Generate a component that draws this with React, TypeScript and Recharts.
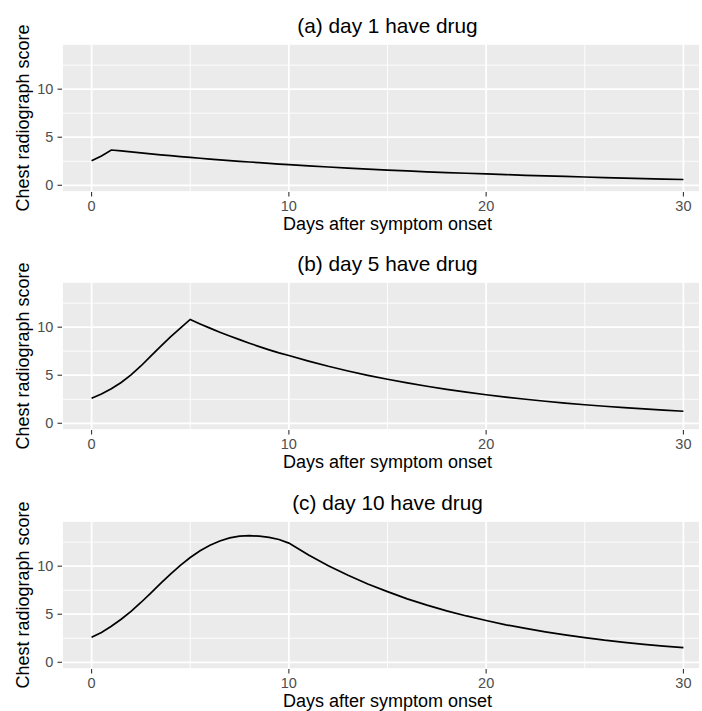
import React from "react";
import { LineChart, Line, XAxis, YAxis, CartesianGrid, Label } from "recharts";

const days = [0, 0.5, 1, 1.5, 2, 2.5, 3, 3.5, 4, 4.5, 5, 5.5, 6, 6.5, 7, 7.5, 8, 8.5, 9, 9.5, 10,
  11, 12, 13, 14, 15, 16, 17, 18, 19, 20, 21, 22, 23, 24, 25, 26, 27, 28, 29, 30];

const scoreA = [2.55, 3.05, 3.67, 3.57, 3.47, 3.37, 3.27, 3.17, 3.08, 2.99, 2.9, 2.81, 2.73, 2.65, 2.57, 2.49, 2.42, 2.35, 2.28, 2.21, 2.15,
  2.02, 1.9, 1.79, 1.68, 1.58, 1.49, 1.4, 1.32, 1.25, 1.18, 1.11, 1.04, 0.98, 0.92, 0.86, 0.8, 0.75, 0.7, 0.65, 0.6];

const scoreB = [2.6, 3.05, 3.6, 4.25, 5.03, 5.96, 6.98, 8.0, 8.98, 9.91, 10.8, 10.34, 9.9, 9.48, 9.08, 8.7, 8.33, 7.98, 7.64, 7.32, 7.05,
  6.47, 5.93, 5.44, 4.99, 4.58, 4.2, 3.85, 3.53, 3.24, 2.97, 2.72, 2.5, 2.29, 2.1, 1.93, 1.77, 1.62, 1.49, 1.36, 1.25];

const scoreC = [2.6, 3.1, 3.75, 4.48, 5.3, 6.22, 7.2, 8.2, 9.17, 10.08, 10.9, 11.6, 12.17, 12.62, 12.94, 13.12, 13.17, 13.12, 13.0, 12.78, 12.4,
  11.16, 10.05, 9.05, 8.15, 7.35, 6.6, 5.95, 5.35, 4.82, 4.35, 3.9, 3.52, 3.17, 2.85, 2.57, 2.3, 2.08, 1.87, 1.68, 1.52];

const panelTitles = ["(a) day 1 have drug", "(b) day 5 have drug", "(c) day 10 have drug"];
const xTicks = [0, 10, 20, 30];
const xMinorTicks = [5, 15, 25];
const yTicks = [0, 5, 10];
const yMinorTicks = [2.5, 7.5, 12.5];
const xLabel = "Days after symptom onset";
const yLabel = "Chest radiograph score";

const FONT = "'Liberation Sans', Arial, Helvetica, sans-serif";
const X_DOMAIN: [number, number] = [-1.5, 31.5];
const Y_DOMAIN: [number, number] = [-0.7, 14.7];

const CHART_W = 713;
const CHART_H = 237;
const PANEL_TOPS = [0, 238, 477];

const XTitle = (props: any) => {
  const vb = props.viewBox || {};
  return (
    <text x={vb.x + vb.width / 2} y={vb.y + 38} textAnchor="middle" fontSize={18} fill="#000" fontFamily={FONT}>
      {xLabel}
    </text>
  );
};

const YTitle = (props: any) => {
  const vb = props.viewBox || {};
  const cx = 29;
  const cy = vb.y + vb.height / 2;
  return (
    <text x={cx} y={cy} textAnchor="middle" fontSize={18} fill="#000" fontFamily={FONT} transform={`rotate(-90, ${cx}, ${cy})`}>
      {yLabel}
    </text>
  );
};

const tickStyle = { fill: "#4D4D4D", fontSize: 14.5, fontFamily: FONT };

function Panel({ scores, title, top }: { scores: number[]; title: string; top: number }) {
  const data = days.map((d, i) => ({ day: d, score: scores[i] }));
  return (
    <div style={{ position: "absolute", left: 0, top, width: CHART_W, height: CHART_H }}>
      <div
        style={{
          position: "absolute",
          left: 62,
          width: CHART_W - 62,
          top: 15,
          textAlign: "center",
          fontSize: 20.8,
          lineHeight: "21px",
          fontFamily: FONT,
          color: "#000",
          whiteSpace: "nowrap",
        }}
      >
        {title}
      </div>
      <LineChart width={CHART_W} height={CHART_H} data={data} margin={{ top: 44, right: 0, bottom: 0, left: 0 }}>
        <XAxis xAxisId="minor" type="number" dataKey="day" domain={X_DOMAIN} ticks={xMinorTicks} hide allowDataOverflow />
        <YAxis yAxisId="minor" type="number" domain={Y_DOMAIN} ticks={yMinorTicks} hide allowDataOverflow />
        <CartesianGrid xAxisId="minor" yAxisId="minor" fill="#EBEBEB" fillOpacity={1} stroke="#FFFFFF" strokeWidth={0.87} />
        <CartesianGrid stroke="#FFFFFF" strokeWidth={1.74} />
        <XAxis
          type="number"
          dataKey="day"
          domain={X_DOMAIN}
          ticks={xTicks}
          allowDataOverflow
          height={45}
          axisLine={false}
          tickLine={{ stroke: "#333333", strokeWidth: 1.1 }}
          tickSize={4.5}
          tickMargin={4}
          tick={tickStyle}
        >
          <Label content={XTitle} />
        </XAxis>
        <YAxis
          type="number"
          domain={Y_DOMAIN}
          ticks={yTicks}
          allowDataOverflow
          width={62}
          axisLine={false}
          tickLine={{ stroke: "#333333", strokeWidth: 1.1 }}
          tickSize={4.5}
          tickMargin={4.2}
          tick={tickStyle}
        >
          <Label content={YTitle} />
        </YAxis>
        <Line
          type="linear"
          dataKey="score"
          stroke="#000000"
          strokeWidth={1.7}
          dot={false}
          activeDot={false}
          isAnimationActive={false}
        />
      </LineChart>
    </div>
  );
}

export default function App() {
  const series = [scoreA, scoreB, scoreC];
  return (
    <div style={{ position: "absolute", left: 0, top: 0, width: 699, height: 711, overflow: "hidden", background: "#fff" }}>
      {series.map((s, i) => (
        <Panel key={i} scores={s} title={panelTitles[i]} top={PANEL_TOPS[i]} />
      ))}
    </div>
  );
}
